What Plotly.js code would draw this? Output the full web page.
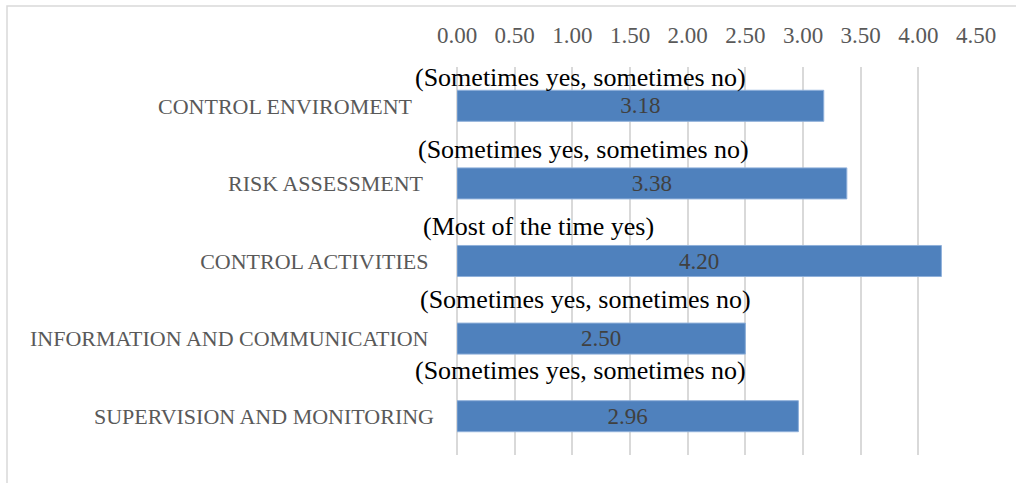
<!DOCTYPE html>
<html><head><meta charset="utf-8">
<script src="https://cdn.plot.ly/plotly-3.0.1.min.js"></script>
<style>html,body{margin:0;padding:0;background:#fff}#chart{width:1016px;height:483px}</style>
</head><body><div id="chart"></div>
<script>
const categories = ["CONTROL ENVIROMENT", "RISK ASSESSMENT", "CONTROL ACTIVITIES", "INFORMATION AND COMMUNICATION", "SUPERVISION AND MONITORING"];
const values = [3.18, 3.38, 4.20, 2.50, 2.96];
const notes = ["(Sometimes yes, sometimes no)", "(Sometimes yes, sometimes no)", "(Most of the time yes)", "(Sometimes yes, sometimes no)", "(Sometimes yes, sometimes no)"];
const xTickValues = [0, 0.5, 1, 1.5, 2, 2.5, 3, 3.5, 4, 4.5];

const W = 1016, H = 483;
const M = {l: 457, r: 40, t: 67, b: 28};
const PW = W - M.l - M.r, PH = H - M.t - M.b;
const px = x => (x - M.l) / PW;
const py = y => (H - M.b - y) / PH;

// note placement (pixel centres, hand placed as in the source document)
const noteX = [580, 583, 538, 585, 580];
const noteY = [77, 149, 226, 299, 370];
// trailing padding of each category label (number of no-break spaces), as in the source
const labelPad = [4, 2, 1, 1, 0];

const serif = "Liberation Serif, Times New Roman, serif";

const trace = {
  type: "bar",
  orientation: "h",
  y: categories,
  x: values,
  marker: {color: "#4f81bd", line: {color: "#8fb0da", width: 1}},
  text: values.map(v => v.toFixed(2)),
  textposition: "inside",
  insidetextanchor: "middle",
  textfont: {family: serif, size: 23, color: "#404040"},
  hoverinfo: "skip",
  cliponaxis: false
};

const annotations = notes.map((n, i) => ({
  text: n, xref: "paper", yref: "paper",
  x: px(noteX[i]), y: py(noteY[i]),
  xanchor: "center", yanchor: "middle",
  showarrow: false,
  font: {family: serif, size: 26, color: "#000000"}
}));

const layout = {
  width: W, height: H,
  margin: M,
  paper_bgcolor: "#ffffff", plot_bgcolor: "#ffffff",
  showlegend: false,
  bargap: 0.6,
  xaxis: {
    side: "top", range: [0, 4.5],
    tickvals: xTickValues, tickformat: ".2f",
    showgrid: true, gridcolor: "#d9d9d9", gridwidth: 2,
    zeroline: false, showline: false, ticks: "",
    ticklabelstandoff: 18,
    tickfont: {family: serif, size: 23, color: "#595959"},
    fixedrange: true
  },
  yaxis: {
    type: "category", categoryorder: "array", categoryarray: categories,
    tickvals: categories,
    ticktext: categories.map((c, i) => c + "\u00a0".repeat(labelPad[i])),
    autorange: "reversed",
    showgrid: false, zeroline: false, showline: false, ticks: "",
    ticklabelstandoff: 22,
    tickfont: {family: serif, size: 22, color: "#595959"},
    fixedrange: true
  },
  annotations: annotations,
  shapes: [{
    type: "rect", xref: "paper", yref: "paper", layer: "below",
    x0: px(7), x1: px(1040), y0: py(500), y1: py(6),
    line: {color: "#d9d9d9", width: 1.5}, fillcolor: "rgba(0,0,0,0)"
  }, {
    type: "line", xref: "paper", yref: "paper", layer: "below",
    x0: 0, x1: 0, y0: 0, y1: 1,
    line: {color: "#d9d9d9", width: 2}
  }]
};

Plotly.newPlot("chart", [trace], layout, {displayModeBar: false, staticPlot: true});
</script>
</body></html>
